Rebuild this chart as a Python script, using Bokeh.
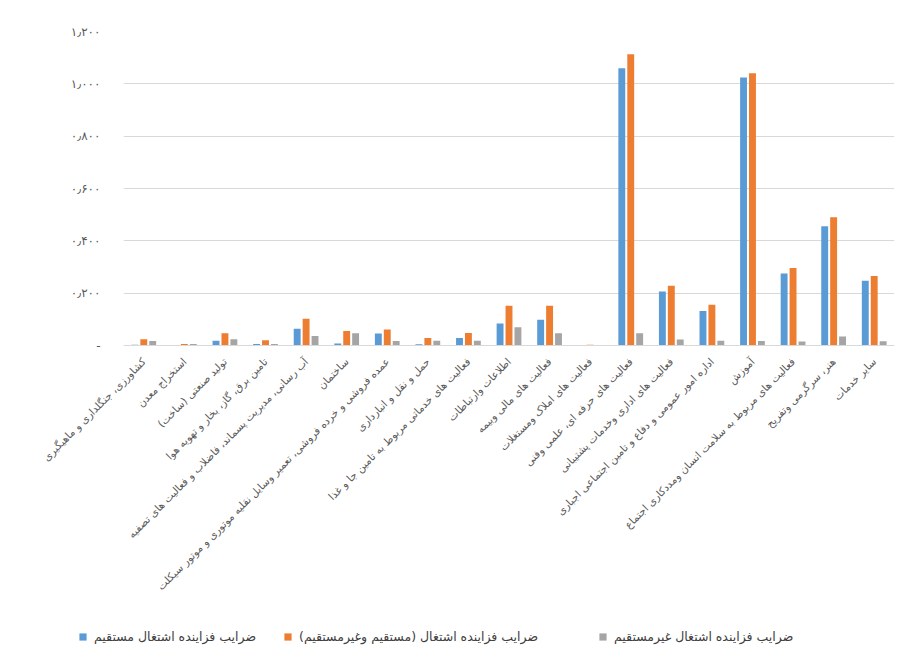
from math import pi
from bokeh.plotting import figure
from bokeh.layouts import column, row
from bokeh.models import FactorRange, Range1d, FixedTicker, Legend, LegendItem, ColumnDataSource
from bokeh.transform import dodge
from bokeh.embed import file_html
from bokeh.resources import INLINE

categories = [
    "کشاورزی، جنگلداری و ماهیگیری",
    "استخراج معدن",
    "تولید صنعتی (ساخت)",
    "تامین برق، گاز، بخار و تهویه هوا",
    "آب رسانی، مدیریت پسماند، فاضلاب و فعالیت های تصفیه",
    "ساختمان",
    "عمده فروشی و خرده فروشی، تعمیر وسایل نقلیه موتوری و موتور سیکلت",
    "حمل و نقل و انبارداری",
    "فعالیت های خدماتی مربوط به تامین جا و غذا",
    "اطلاعات وارتباطات",
    "فعالیت های مالی وبیمه",
    "فعالیت های املاک ومستغلات",
    "فعالیت های حرفه ای، علمی وفنی",
    "فعالیت های اداری وخدمات پشتیبانی",
    "اداره امور عمومی و دفاع و تامین اجتماعی اجباری",
    "آموزش",
    "فعالیت های مربوط به سلامت انسان ومددکاری اجتماع",
    "هنر، سرگرمی وتفریح",
    "سایر خدمات",
]

direct = [0.003, 0.002, 0.018, 0.006, 0.064, 0.008, 0.046, 0.005, 0.029, 0.084,
          0.098, 0.002, 1.060, 0.206, 0.132, 1.024, 0.275, 0.456, 0.247]
total = [0.024, 0.006, 0.047, 0.020, 0.102, 0.055, 0.061, 0.029, 0.048, 0.152,
         0.152, 0.003, 1.113, 0.228, 0.156, 1.040, 0.296, 0.490, 0.266]
indirect = [0.017, 0.006, 0.024, 0.006, 0.036, 0.047, 0.017, 0.018, 0.018, 0.070,
            0.047, 0.002, 0.047, 0.023, 0.018, 0.017, 0.015, 0.034, 0.016]

series_names = [
    "ضرایب فزاینده اشتغال مستقیم",
    "ضرایب فزاینده اشتغال (مستقیم وغیرمستقیم)",
    "ضرایب فزاینده اشتغال غیرمستقیم",
]
series_fields = ["direct", "total", "indirect"]
colors = ["#5B9BD5", "#ED7D31", "#A5A5A5"]
offsets = [-0.22, 0.0, 0.22]

y_ticks = [0, 0.2, 0.4, 0.6, 0.8, 1.0, 1.2]
y_tick_labels = ["-", "۰٫۲۰۰", "۰٫۴۰۰", "۰٫۶۰۰", "۰٫۸۰۰", "۱٫۰۰۰", "۱٫۲۰۰"]

source = ColumnDataSource(dict(cat=categories, direct=direct, total=total, indirect=indirect))

p = figure(width=898, height=620, x_range=FactorRange(*categories), y_range=Range1d(0, 1.2),
           output_backend="svg", toolbar_location=None,
           min_border_left=123, min_border_right=4, min_border_top=31, min_border_bottom=275)

p.outline_line_color = None
p.background_fill_color = "white"

for f, c, o in zip(series_fields, colors, offsets):
    p.vbar(x=dodge("cat", o, range=p.x_range), top=f, width=0.17, source=source,
           fill_color=c, line_color=None)

# y axis
p.yaxis.ticker = FixedTicker(ticks=y_ticks)
p.yaxis.major_label_overrides = {t: l for t, l in zip(y_ticks, y_tick_labels)}
p.yaxis.axis_line_color = None
p.yaxis.major_tick_line_color = None
p.yaxis.minor_tick_line_color = None
p.yaxis.major_label_standoff = 17
p.yaxis.major_label_text_font = "DejaVu Sans"
p.yaxis.major_label_text_font_size = "12px"
p.yaxis.major_label_text_color = "#595959"

p.ygrid.ticker = FixedTicker(ticks=y_ticks)
p.ygrid.grid_line_color = "#D9D9D9"
p.xgrid.grid_line_color = None

# x axis
p.xaxis.axis_line_color = "#D9D9D9"
p.xaxis.major_tick_line_color = None
p.xaxis.minor_tick_line_color = None
p.xaxis.major_label_orientation = pi / 4
p.xaxis.major_label_standoff = 8
p.xaxis.major_label_text_font = "DejaVu Sans"
p.xaxis.major_label_text_font_size = "10.5px"
p.xaxis.major_label_text_color = "#595959"

# legend strip below the chart: same series drawn far out of view, used only for swatches
lp = figure(width=898, height=36, x_range=FactorRange(*categories), y_range=Range1d(3, 4),
            output_backend="svg", toolbar_location=None,
            x_axis_type=None, y_axis_type=None,
            min_border_left=0, min_border_right=0, min_border_top=0, min_border_bottom=0)
lp.outline_line_color = None
lp.xgrid.visible = False
lp.ygrid.visible = False

legend_x = [78, 283, 598]
for name, f, c, o, lx in zip(series_names, series_fields, colors, offsets, legend_x):
    rr = lp.vbar(x=dodge("cat", o, range=lp.x_range), top=f, width=0.17, source=source,
                 fill_color=c, line_color=None)
    lg = Legend(items=[LegendItem(label=name, renderers=[rr])],
                orientation="horizontal", location=(lx, 12),
                padding=0, margin=0, spacing=0, label_standoff=7,
                glyph_width=9, glyph_height=9,
                label_text_font="DejaVu Sans", label_text_font_size="12.5px",
                label_text_color="#404040",
                background_fill_alpha=0, border_line_color=None)
    lp.add_layout(lg, "center")

layout = column(p, row(lp), spacing=0)
open("out.html", "w").write(file_html(layout, INLINE))
